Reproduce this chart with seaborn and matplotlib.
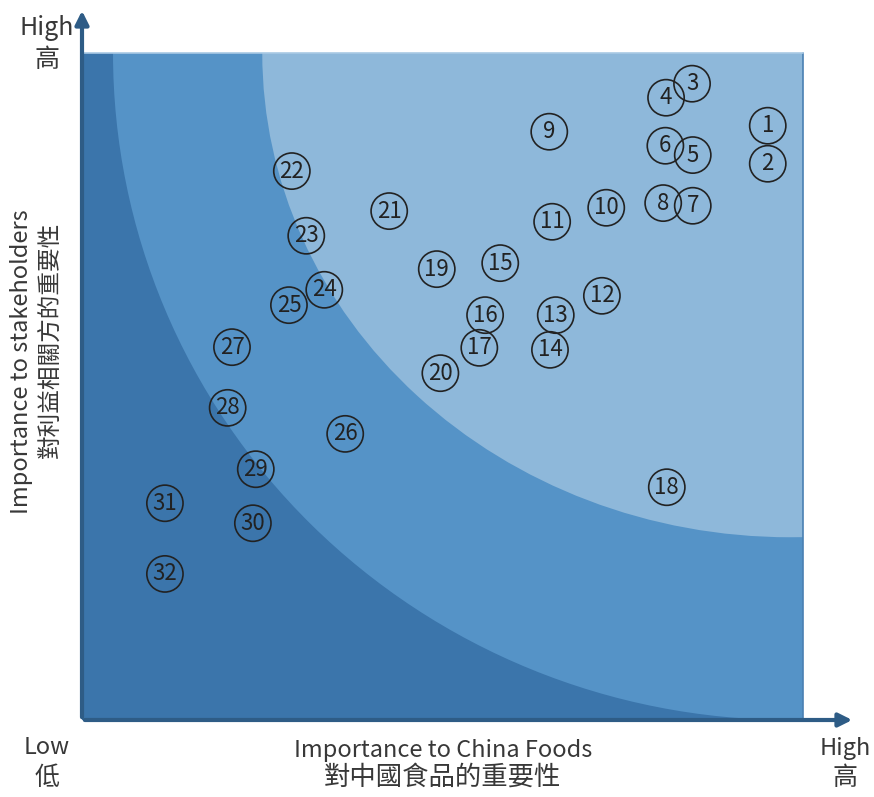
import seaborn as sns
import matplotlib.pyplot as plt
import pandas as pd
from matplotlib.patches import Rectangle, Ellipse

# =======================
# Data: issue number, importance to China Foods (x), importance to stakeholders (y)
# =======================
issue_ids = list(range(1, 33))
x_company = [95.1, 95.1, 84.6, 81.0, 84.7, 80.9, 84.7, 80.6, 64.8, 72.7,
             65.2, 72.1, 65.7, 64.9, 58.0, 55.9, 55.1, 81.1, 49.2, 49.7,
             42.6, 29.1, 31.1, 33.6, 28.7, 36.5, 20.8, 20.2, 24.1, 23.7,
             11.5, 11.5]
y_stakeholder = [89.1, 83.4, 95.4, 93.3, 84.7, 86.1, 77.1, 77.5, 88.2, 76.8,
                 74.7, 63.6, 60.7, 55.5, 68.5, 60.7, 55.8, 34.9, 67.6, 52.0,
                 76.3, 82.3, 72.6, 64.5, 62.2, 42.9, 55.9, 46.8, 37.6, 29.5,
                 32.5, 21.9]

df = pd.DataFrame({"id": issue_ids, "x": x_company, "y": y_stakeholder})

# zone colours (low -> high)
dark_blue = "#3B75AB"
mid_blue = "#5593C7"
light_blue = "#8EB8DA"
axis_col = "#2E5C86"
text_col = "#383838"

sns.set_style("white")
plt.rcParams["font.family"] = ["Noto Sans CJK TC", "DejaVu Sans"]
plt.rcParams["font.weight"] = "light"

fig = plt.figure(figsize=(8.74, 7.97), dpi=100)
ax = fig.add_axes([82 / 874, 77 / 797, 773 / 874, 712 / 797])
ax.set_xlim(0, 107.2)
ax.set_ylim(0, 106.75)
ax.axis("off")

# =======================
# Background zones
# =======================
square = Rectangle((0, 0), 100, 100, facecolor=dark_blue, edgecolor="none", zorder=0)
ax.add_patch(square)
mid = Ellipse((98.2, 100), 2 * 93.9, 2 * 100, facecolor=mid_blue, edgecolor="none", zorder=1)
ax.add_patch(mid)
mid.set_clip_path(square)
light = Ellipse((98.2, 100), 2 * 73.2, 2 * 72.6, facecolor=light_blue, edgecolor="none", zorder=2)
ax.add_patch(light)
light.set_clip_path(square)
ax.plot([100, 100], [0, 100], color="#4A80B3", lw=1.2, zorder=3)
ax.plot([0, 100], [100, 100], color="#A9C9E4", lw=1.2, zorder=3)

# =======================
# Axes arrows
# =======================
arrow = dict(arrowstyle="-|>,head_length=0.8,head_width=0.4", color=axis_col, lw=3)
ax.annotate("", xy=(107.2, 0), xytext=(0, 0), arrowprops=arrow, zorder=5)
ax.annotate("", xy=(0, 106.75), xytext=(0, 0), arrowprops=arrow, zorder=5)

# =======================
# Circled issue numbers
# =======================
sns.scatterplot(data=df, x="x", y="y", ax=ax, s=680, marker="o",
                facecolor="none", edgecolor="#222222", linewidth=1.2, zorder=6)
for _, r in df.iterrows():
    ax.text(r["x"], r["y"], str(int(r["id"])), ha="center", va="center",
            fontsize=16, color="#222222", zorder=7)

# =======================
# Labels
# =======================
ax.set_xlabel("")
ax.set_ylabel("")
fig.text(47 / 874, 1 - 28 / 797, "High", ha="center", va="center", fontsize=18, color=text_col)
fig.text(47 / 874, 1 - 60 / 797, "高", ha="center", va="center", fontsize=18, color=text_col)
fig.text(47 / 874, 1 - 748 / 797, "Low", ha="center", va="center", fontsize=17, color=text_col)
fig.text(47 / 874, 1 - 778 / 797, "低", ha="center", va="center", fontsize=18, color=text_col)
fig.text(845 / 874, 1 - 748 / 797, "High", ha="center", va="center", fontsize=17, color=text_col)
fig.text(845 / 874, 1 - 778 / 797, "高", ha="center", va="center", fontsize=18, color=text_col)
fig.text(443 / 874, 1 - 750 / 797, "Importance to China Foods", ha="center", va="center",
         fontsize=17, color=text_col)
fig.text(442 / 874, 1 - 777 / 797, "對中國食品的重要性", ha="center", va="center",
         fontsize=19, color=text_col)
fig.text(22 / 874, 1 - 362 / 797, "Importance to stakeholders", ha="center", va="center",
         rotation=90, fontsize=17, color=text_col)
fig.text(50 / 874, 1 - 340 / 797, "對利益相關方的重要性", ha="center", va="center",
         rotation=90, fontsize=17, color=text_col)

plt.savefig("out.png", dpi=100)
